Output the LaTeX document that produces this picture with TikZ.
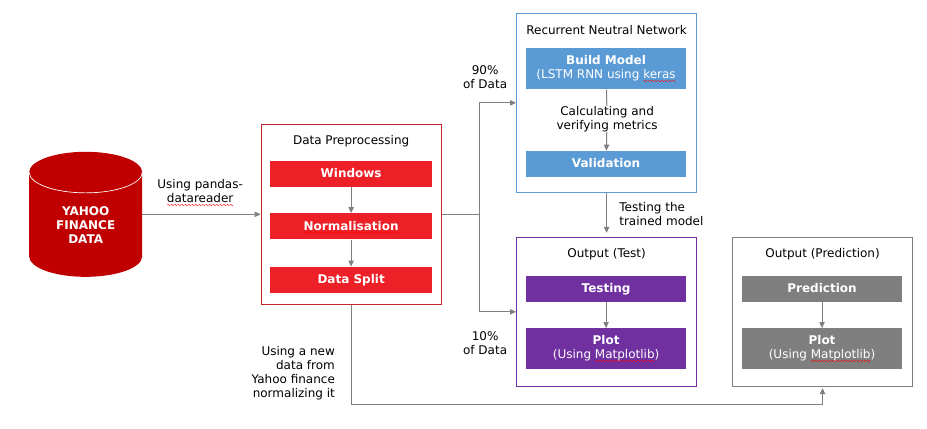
\documentclass[tikz,border=0pt]{standalone}
\usepackage{fontspec}
\setmainfont{DejaVu Sans}
\usepackage{xcolor}
\usetikzlibrary{arrows.meta,positioning}
\definecolor{dbred}{HTML}{C00000}
\definecolor{stepred}{HTML}{ED2027}
\definecolor{framered}{HTML}{C9252C}
\definecolor{modelblue}{HTML}{5B9BD5}
\definecolor{testpurple}{HTML}{7030A0}
\definecolor{predgray}{HTML}{7F7F7F}
\newsavebox{\wavebox}
\newcommand{\spell}[1]{\setbox0=\hbox{#1}\rlap{\raisebox{-2.2pt}{\hbox to \wd0{\xleaders\copy\wavebox\hfill}}}\box0 }
\newcommand{\labelfont}{\fontsize{9}{10.5}\selectfont}
\newcommand{\boldfont}{\fontsize{9}{10.5}\bfseries\selectfont}

\begin{document}
\begin{tikzpicture}[x=0.75pt, y=-0.75pt, >={Triangle[length=4.5pt,width=4pt]}, node distance=19.5pt,
  every node/.style={font=\labelfont, align=center, inner sep=0pt},
  frame/.style={draw=#1, fill=white, line width=0.75pt, minimum width=135pt},
  block/.style={fill=#1, text=white, minimum width=120pt, minimum height=19.5pt, text height=8pt, text depth=1.9pt, font=\boldfont},
  tallblock/.style={block=#1, minimum height=30.75pt, text height=, text depth=, font=\labelfont},
  link/.style={draw=predgray, line width=0.75pt}]
\sbox{\wavebox}{\tikz\draw[red, line width=0.3pt] (0pt,0pt) sin (0.55pt,0.5pt) cos (1.1pt,0pt) sin (1.65pt,-0.5pt) cos (2.2pt,0pt);}
\useasboundingbox (0,0.7) rectangle (927,427.7);
% database
\node[minimum width=84.75pt, minimum height=93.75pt] (yahoo) at (85.5,213.5) {};
\fill[dbred] (29,171.5) arc[start angle=180, end angle=0, x radius=42.4pt, y radius=15.4pt] -- (142,255.5) arc[start angle=0, end angle=-180, x radius=42.4pt, y radius=15.4pt] -- cycle;
\draw[white, line width=0.5pt] (29,171.5) arc[start angle=180, end angle=360, x radius=42.4pt, y radius=15.4pt];
\node[text=white, font=\boldfont] (yahootext) at (85.5,224.5) {YAHOO\\FINANCE\\DATA};
% preprocessing
\node[frame=framered, minimum height=135pt] (prep) at (351,213.5) {};
\node (preptitle) at (351,140) {Data Preprocessing};
\node[block=stepred, minimum width=121.5pt] (windows) at (351,173) {Windows};
\node[block=stepred, minimum width=121.5pt, below=of windows] (norm) {\spell{Normalisation}};
\node[block=stepred, minimum width=121.5pt, below=20.25pt of norm] (split) {Data Split};
% network
\node[frame=modelblue, minimum height=134pt] (rnn) at (606.5,102) {};
\node (rnntitle) at (606.5,29) {Recurrent Neutral Network};
\node[tallblock=modelblue] (build) at (606,68) {\textbf{Build Model}\\(LSTM RNN using \spell{keras}};
\node[block=modelblue] (valid) at (606,163) {Validation};
\node (metrics) at (607,118) {Calculating and\\verifying metrics};
% outputs
\node[frame=testpurple, minimum height=111.75pt] (test) at (606.5,311) {};
\node (testtitle) at (606.5,253) {Output (Test)};
\node[block=testpurple] (testing) at (606,288) {Testing};
\node[tallblock=testpurple, below=of testing] (testplot) {\textbf{Plot}\\(Using \spell{Matplotlib})};
\node[frame=predgray, minimum height=111.75pt] (pred) at (822.5,311) {};
\node (predtitle) at (822.5,253) {Output (Prediction)};
\node[block=predgray] (predict) at (822,288) {Prediction};
\node[tallblock=predgray, below=of predict] (predplot) {\textbf{Plot}\\(Using \spell{Matplotlib})};
\coordinate (branch) at (479,213.5);
\coordinate (corner) at (351,403.5);
% labels
\node (pandas) at (200,192) {Using pandas-\\\spell{datareader}};
\node (ninety) at (485,76) {90\%\\of Data};
\node (ten) at (485,342) {10\%\\of Data};
\node[align=left, anchor=west] (trained) at (619,213) {Testing the\\trained model};
\node[align=right, anchor=east] (newdata) at (335,372.5) {Using a new\\data from\\Yahoo finance\\normalizing it};
% connectors
\draw[link, ->] (yahoo.east) -- (prep.west);
\draw[link] (prep.east) -- (branch);
\draw[link, ->] (branch) |- (rnn.west);
\draw[link, ->] (branch) |- (test.west);
\draw[link, ->] (windows) -- (norm);
\draw[link, ->] (norm) -- (split);
\draw[link] (build) -- (metrics);
\draw[link, ->] (metrics) -- (valid);
\draw[link, ->, shorten >=3pt] (rnn) -- (test);
\draw[link, ->] (testing) -- (testplot);
\draw[link, ->] (predict) -- (predplot);
\draw[link] (prep.south) -- (corner);
\draw[link, ->, shorten >=1pt] (corner) -| (pred.south);
\end{tikzpicture}
\end{document}
